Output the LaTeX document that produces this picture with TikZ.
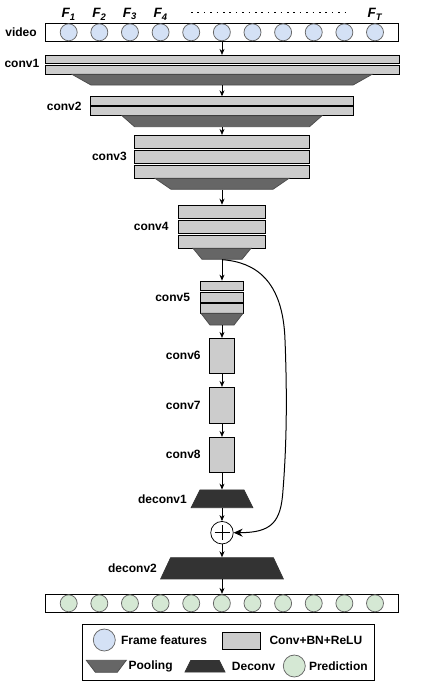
\documentclass[tikz,border=0pt]{standalone}
\usepackage{fontspec}
\setmainfont{Liberation Sans}
\usepackage{tikz}
\usetikzlibrary{shapes, arrows.meta, positioning, calc}
\definecolor{featblue}{HTML}{D4E1F5}
\definecolor{predgreen}{HTML}{D5E8D4}
\definecolor{bargray}{HTML}{CCCCCC}
\definecolor{poolgray}{HTML}{666666}
\definecolor{deconvgray}{HTML}{333333}
\tikzstyle{strip} = [rectangle, draw=black, fill=white, minimum width=353pt, minimum height=18pt, inner sep=0]
\tikzstyle{frame} = [circle, minimum size=17pt, inner sep=0, draw=black!60, fill=featblue]
\tikzstyle{pred} = [circle, minimum size=17pt, inner sep=0, draw=black!60, fill=predgreen]
\tikzstyle{bar} = [rectangle, draw=black, fill=bargray, inner sep=0]
\tikzstyle{pooling} = [trapezium, trapezium stretches body, shape border rotate=180, draw=black!70, fill=poolgray, inner xsep=0]
\tikzstyle{deconv} = [trapezium, trapezium stretches body, draw=black!80, fill=deconvgray, inner xsep=0]
\tikzstyle{lbl} = [inner sep=0, font=\fontsize{12pt}{14pt}\selectfont\bfseries]
\tikzstyle{flabel} = [inner sep=0, font=\fontsize{13.5pt}{15pt}\selectfont\bfseries\itshape]
\tikzstyle{dotrow} = [line width=1.6pt, dash pattern=on 1.6pt off 4.8pt]

\begin{document}
\begin{tikzpicture}[x=1pt, y=-1pt, line width=0.75pt, >={Stealth[length=6pt, width=5pt]}]
\useasboundingbox (0,0) rectangle (443,695);

\node (video) [strip] at (222,32.3) {};
\node (output) [strip] at (222,603.3) {};
\foreach \i in {1,...,11} {
  \node (f\i) [frame] at ({68.7+30.63*(\i-1)},32.3) {};
  \node (p\i) [pred] at ({68.7+30.63*(\i-1)},603.3) {};
}
\node (vlabel) [lbl, left=8pt of video] {video};
\node (t1) [flabel, above=3pt of f1] {F\textsubscript{1}};
\node (t2) [flabel, above=3pt of f2] {F\textsubscript{2}};
\node (t3) [flabel, above=3pt of f3] {F\textsubscript{3}};
\node (t4) [flabel, above=3pt of f4] {F\textsubscript{4}};
\node (tT) [flabel, above=3pt of f11] {F\textsubscript{T}};
\coordinate (d1) at (191,12.7);
\coordinate (d2) at (345,12.7);
\draw [dotrow] (d1) -- (d2);

\node (conv1a) [bar, minimum width=354pt, minimum height=8pt] at (222,59.3) {};
\node (conv1b) [bar, minimum width=354pt, minimum height=8.6pt] at (222,70) {};
\node (pool1) [pooling, minimum width=300pt, inner ysep=5.35pt, trapezium angle=29.4] at (222,79.7) {};
\node (c1label) [lbl, left=5pt of conv1a.south west] {conv1};

\node (conv2a) [bar, minimum width=263.4pt, minimum height=8.9pt] at (222,101.15) {};
\node (conv2b) [bar, minimum width=263.4pt, minimum height=9.35pt] at (222,111.05) {};
\node (pool2) [pooling, minimum width=200pt, inner ysep=5.5pt, trapezium angle=41.3] at (222,121.2) {};
\node (c2label) [lbl, left=8pt of conv2a.south west] {conv2};

\node (conv3a) [bar, minimum width=175pt, minimum height=13pt] at (222,141.8) {};
\node (conv3b) [bar, minimum width=175pt, minimum height=13pt] at (222,156.8) {};
\node (conv3c) [bar, minimum width=175pt, minimum height=13pt] at (222,171.8) {};
\node (pool3) [pooling, minimum width=134pt, inner ysep=5.5pt, trapezium angle=34.5] at (222,183.8) {};
\node (c3label) [lbl, left=7pt of conv3b] {conv3};

\node (conv4a) [bar, minimum width=87.4pt, minimum height=13.2pt] at (222,211.7) {};
\node (conv4b) [bar, minimum width=87.4pt, minimum height=13.2pt] at (222,226.8) {};
\node (conv4c) [bar, minimum width=87.4pt, minimum height=13.2pt] at (222,241.8) {};
\node (pool4) [pooling, minimum width=58pt, inner ysep=5.5pt, trapezium angle=50.7] at (222,253.8) {};
\node (c4label) [lbl, left=9pt of conv4b] {conv4};

\node (conv5a) [bar, minimum width=42.6pt, minimum height=9pt] at (222,285.5) {};
\node (conv5b) [bar, minimum width=42.6pt, minimum height=10.3pt] at (222,297.15) {};
\node (conv5c) [bar, minimum width=42.6pt, minimum height=10.2pt] at (222,308.2) {};
\node (pool5) [pooling, minimum width=42pt, inner ysep=5.85pt, trapezium angle=52.4] at (222,319.2) {};
\node (c5label) [lbl, left=10pt of conv5b] {conv5};

\node (conv6) [bar, minimum width=25.3pt, minimum height=35pt] at (222,355.8) {};
\node (conv7) [bar, minimum width=25.3pt, minimum height=36pt] at (222,405.3) {};
\node (conv8) [bar, minimum width=25.3pt, minimum height=35pt] at (222,454.8) {};
\node (c6label) [lbl, left=8pt of conv6] {conv6};
\node (c7label) [lbl, left=8pt of conv7] {conv7};
\node (c8label) [lbl, left=8pt of conv8] {conv8};

\node (deconv1) [deconv, minimum width=61.7pt, inner ysep=8.85pt, trapezium angle=63.4] at (222,498.8) {};
\node (d1label) [lbl, left=8pt of deconv1] {deconv1};
\node (plus) [circle, draw=black, fill=white, minimum size=22.5pt, inner sep=0] at (222,532.7) {};
\draw ($(plus.center)+(-7.5,0)$) -- ($(plus.center)+(7.5,0)$);
\draw ($(plus.center)+(0,-7.5)$) -- ($(plus.center)+(0,7.5)$);
\node (deconv2) [deconv, minimum width=122.7pt, inner ysep=10.65pt, trapezium angle=64.9] at (222,568.3) {};
\node (d2label) [lbl, left=8pt of deconv2] {deconv2};

\draw [->] (video) -- (conv1a);
\draw [->] (pool1) -- (conv2a);
\draw [->] (pool2) -- (conv3a);
\draw [->] (pool3) -- (conv4a);
\draw [->] (pool4) -- (conv5a);
\draw [->] (pool5) -- (conv6);
\draw [->] (conv6) -- (conv7);
\draw [->] (conv7) -- (conv8);
\draw [->] (conv8) -- (deconv1);
\draw [->] (deconv1) -- (plus);
\draw [->] (plus) -- (deconv2);
\draw [->] (deconv2) -- (output);
\draw [line width=1pt, -{Stealth[length=9pt, width=8pt]}] (pool4.south) .. controls (255,262) and (283,280) .. (285,340) .. controls (287,390) and (287,440) .. (283,490) .. controls (281,522) and (272,532.7) .. (plus.east);

\node (legend) [draw=black, minimum width=292pt, minimum height=55.7pt, inner sep=0] at (228.3,652.2) {};
\node (lframe) [frame, minimum size=22pt] at (104.3,640) {};
\node (lframetext) [lbl, right=5pt of lframe] {Frame features};
\node (lconv) [bar, minimum width=37.6pt, minimum height=16.3pt] at (241.5,640.8) {};
\node (lconvtext) [lbl, right=8.5pt of lconv] {Conv+BN+ReLU};
\node (lpool) [pooling, minimum width=40pt, inner ysep=6pt, trapezium angle=53] at (106.3,666.3) {};
\node (lpooltext) [lbl, right=6pt of lpool] {Pooling};
\node (ldeconv) [deconv, minimum width=40pt, inner ysep=5.75pt, trapezium angle=63.6] at (205,666.3) {};
\node (ldeconvtext) [lbl, right=9pt of ldeconv] {Deconv};
\node (lpred) [pred, minimum size=22pt] at (294.3,666) {};
\node (lpredtext) [lbl, right=3pt of lpred] {Prediction};
\end{tikzpicture}
\end{document}
